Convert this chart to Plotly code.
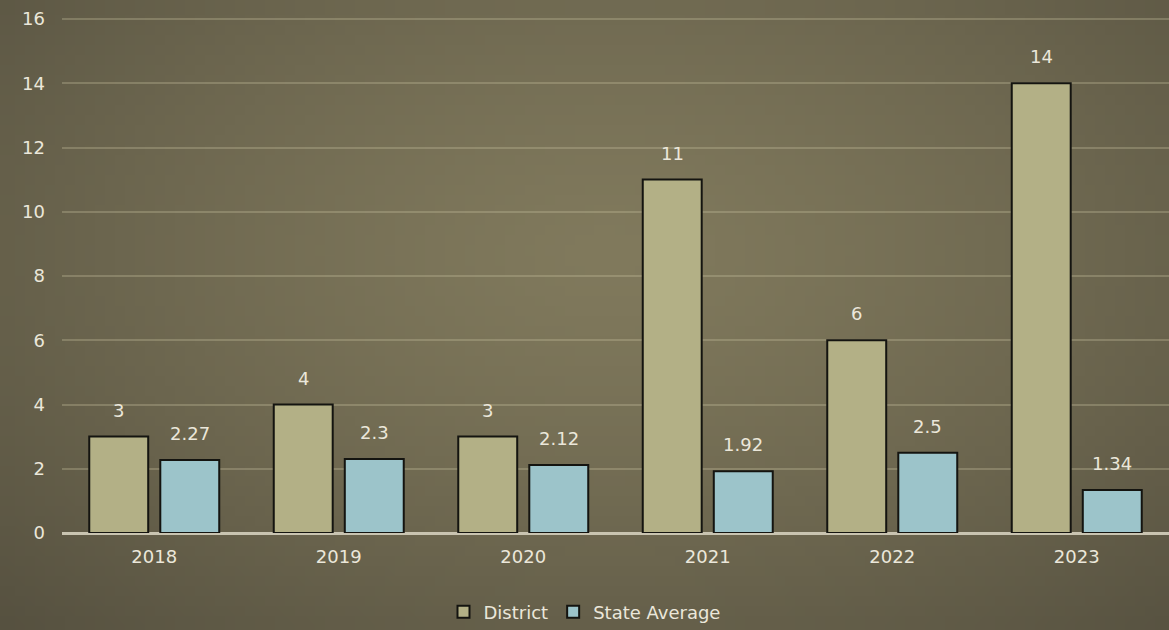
import base64, struct, zlib
import plotly.graph_objects as go

# ---- data ----
years = ["2018", "2019", "2020", "2021", "2022", "2023"]
district = [3, 4, 3, 11, 6, 14]
state_avg = [2.27, 2.3, 2.12, 1.92, 2.5, 1.34]
y_ticks = [0, 2, 4, 6, 8, 10, 12, 14, 16]

W, H = 1169, 630

# ---- radial gradient background as a PNG (style only) ----
def make_png(w, h):
    rows = []
    cx, cy = 0.52, 0.40
    c_in = (129, 122, 93)
    c_out = (86, 81, 64)
    for j in range(h):
        row = bytearray([0])
        for i in range(w):
            dx = (i / (w - 1) - cx) / 0.75
            dy = (j / (h - 1) - cy) / 0.85
            d = min(1.0, (dx * dx + dy * dy) ** 0.5)
            t = d ** 1.3
            row += bytes(int(c_in[k] + (c_out[k] - c_in[k]) * t) for k in range(3))
        rows.append(bytes(row))
    raw = b"".join(rows)

    def chunk(tag, data):
        c = struct.pack(">I", len(data)) + tag + data
        return c + struct.pack(">I", zlib.crc32(tag + data) & 0xFFFFFFFF)

    png = b"\x89PNG\r\n\x1a\n"
    png += chunk(b"IHDR", struct.pack(">IIBBBBB", w, h, 8, 2, 0, 0, 0))
    png += chunk(b"IDAT", zlib.compress(raw, 9))
    png += chunk(b"IEND", b"")
    return "data:image/png;base64," + base64.b64encode(png).decode()

bg = make_png(117, 63)

FONT = "DejaVu Sans"
TXT = "#ebe7da"

fig = go.Figure()
fig.add_trace(go.Bar(
    name="District", x=years, y=district,
    marker=dict(color="#b3b086", line=dict(color="#141410", width=2)),
))
fig.add_trace(go.Bar(
    name="State Average", x=years, y=state_avg,
    marker=dict(color="#9cc4ca", line=dict(color="#141410", width=2)),
))

slot_px = 71
for i, v in enumerate(district):
    fig.add_annotation(x=i, y=v, text=str(v), showarrow=False, xshift=-slot_px / 2,
                       yshift=14, yanchor="bottom", font=dict(family=FONT, size=18, color=TXT))
for i, v in enumerate(state_avg):
    fig.add_annotation(x=i, y=v, text=f"{v:g}", showarrow=False, xshift=slot_px / 2,
                       yshift=14, yanchor="bottom", font=dict(family=FONT, size=18, color=TXT))

px_per_unit = (533 - 19) / 16
y_top = 16.3
top_px = 533 - y_top * px_per_unit

fig.update_layout(
    width=W, height=H,
    margin=dict(l=0, r=0, t=0, b=0, autoexpand=False),
    paper_bgcolor="#6b6550",
    plot_bgcolor="rgba(0,0,0,0)",
    barmode="group",
    bargap=0.23,
    bargroupgap=0.17,
    showlegend=True,
    legend=dict(orientation="h", x=0.5, xanchor="center", y=(H - 612) / H, yanchor="middle",
                font=dict(family=FONT, size=18, color=TXT), bgcolor="rgba(0,0,0,0)",
                itemwidth=30, traceorder="normal"),
    images=[dict(source=bg, xref="paper", yref="paper", x=0, y=1, sizex=1, sizey=1,
                 sizing="stretch", layer="below", xanchor="left", yanchor="top")],
    xaxis=dict(type="category", range=[-0.5, len(years) - 0.5], domain=[62 / W, 1.0],
               showgrid=False, zeroline=False, showline=False, automargin=False,
               tickfont=dict(family=FONT, size=18, color=TXT), ticklabelstandoff=11),
    yaxis=dict(domain=[(H - 533) / H, (H - top_px) / H], range=[0, y_top], tickvals=y_ticks,
               showgrid=True, gridcolor="rgba(200,192,160,0.32)", gridwidth=1.5,
               zeroline=True, zerolinecolor="#c9c4b1", zerolinewidth=3, showline=False,
               automargin=False,
               tickfont=dict(family=FONT, size=18, color=TXT), ticklabelstandoff=16),
)

fig.write_html("out.html")
